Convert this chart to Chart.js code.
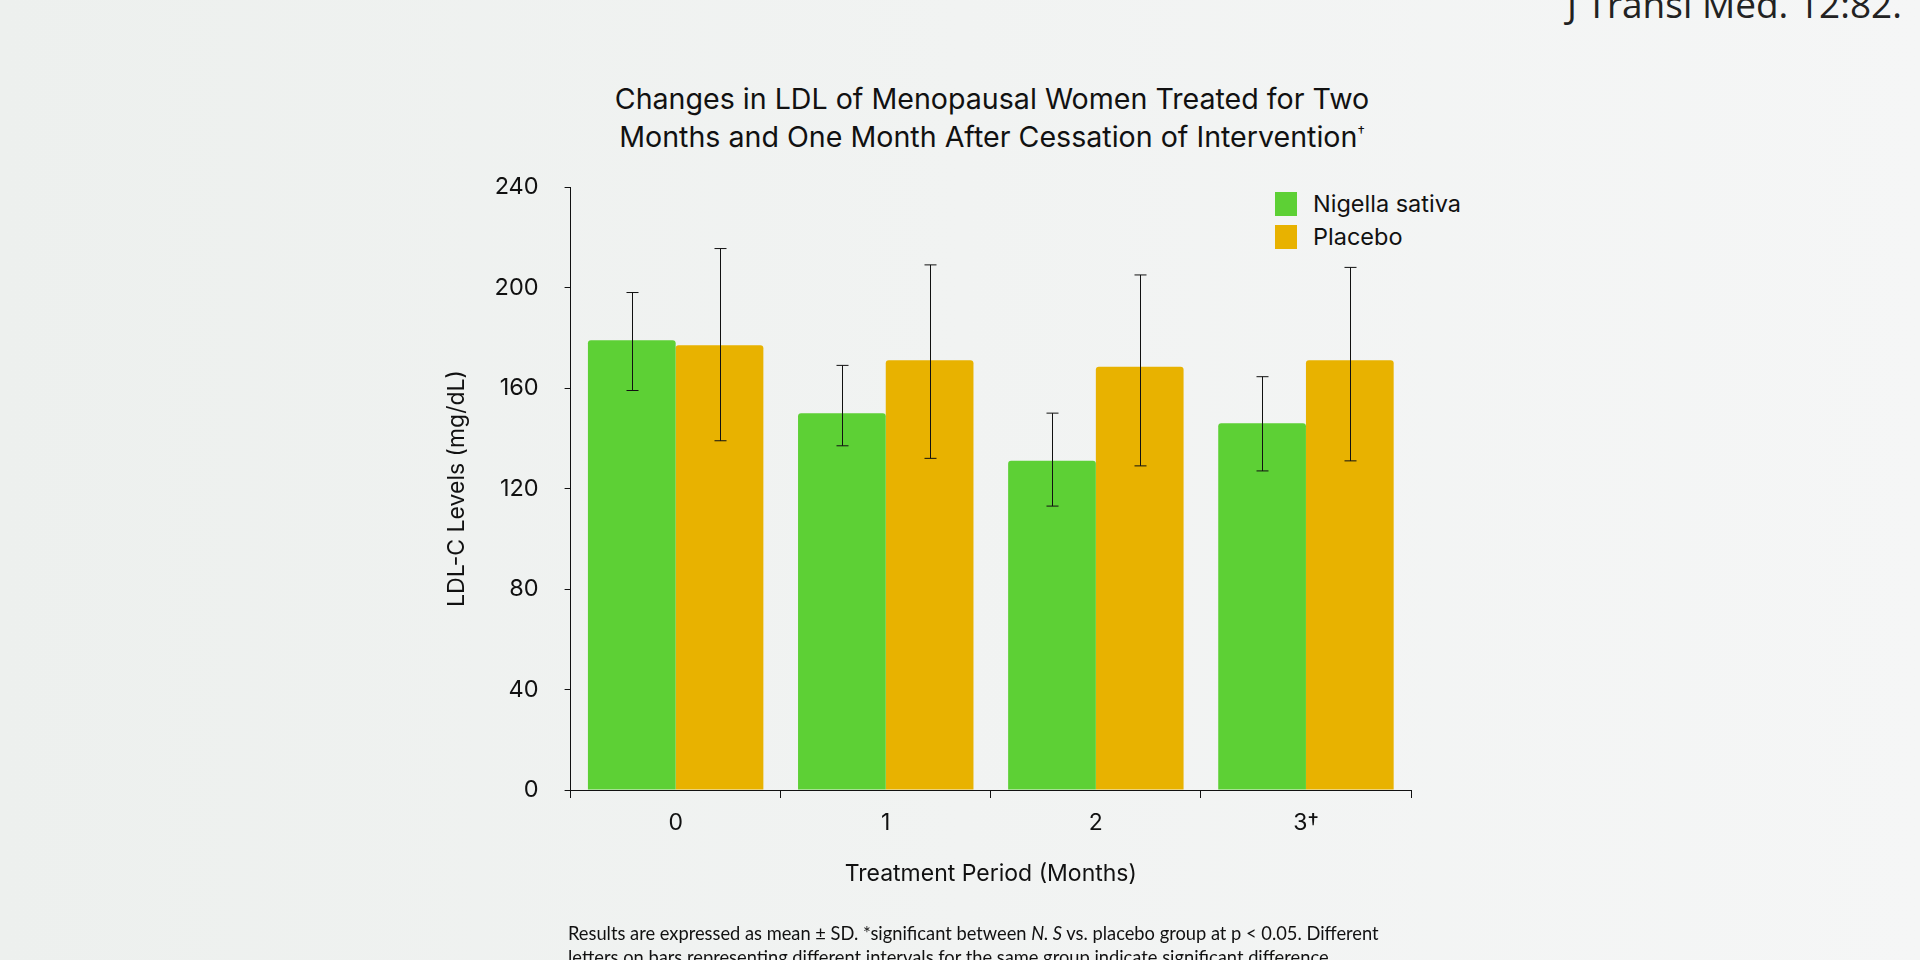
<!DOCTYPE html>
<html>
<head>
<meta charset="utf-8">
<script src="https://cdn.jsdelivr.net/npm/chart.js@4.4.1/dist/chart.umd.min.js"></script>
<style>
  html, body { margin: 0; padding: 0; }
  body {
    width: 1920px; height: 960px; overflow: hidden; position: relative;
    background: linear-gradient(to right, #edf0ee 0%, #f1f3f2 50%, #f5f6f6 100%);
    font-family: Inter, Lato, sans-serif; color: #111;
  }
  #chart { position: absolute; left: 0; top: 0; }
  .cite { position: absolute; left: 1567px; top: -22px; font-family: "Open Sans", sans-serif; font-size: 37px; color: #222; white-space: nowrap; }
  .title { position: absolute; left: 0; width: 1984px; top: 80px; text-align: center; font-size: 28.6px; line-height: 38px; color: #111; }
  .title sup { font-size: 15px; line-height: 0; vertical-align: 0; position: relative; top: -10px; }
  .legend { position: absolute; left: 1275px; top: 187px; font-size: 23.5px; }
  .legend div { height: 33px; display: flex; align-items: center; }
  .legend span.sw { display: inline-block; width: 22px; height: 24px; margin-right: 16px; }
  .note { position: absolute; left: 568px; top: 921px; font-family: Lato, sans-serif; font-size: 18.3px; line-height: 24px; color: #111; white-space: nowrap; }
</style>
</head>
<body>
<div class="cite">J Transl Med. 12:82.</div>
<div class="title">Changes in LDL of Menopausal Women Treated for Two<br>Months and One Month After Cessation of Intervention<sup>†</sup></div>
<div class="legend" id="legend"></div>
<canvas id="chart" width="1920" height="960"></canvas>
<div class="note">Results are expressed as mean ± SD. *significant between <i>N. S</i> vs. placebo group at p &lt; 0.05. Different<br>letters on bars representing different intervals for the same group indicate significant difference</div>
<script>
const categories = ['0', '1', '2', '3†'];
const yTicks = [0, 40, 80, 120, 160, 200, 240];

const nigellaMean = [179, 150, 131, 146];
const nigellaLow = [159, 137, 113, 127];
const nigellaHigh = [198, 169, 150, 164.5];

const placeboMean = [177, 171, 168.5, 171];
const placeboLow = [139, 132, 129, 131];
const placeboHigh = [215.5, 209, 205, 208];

const GREEN = '#5dd035';
const ORANGE = '#e8b200';
const FONT = 'Inter';

// whiskers drawn from the low/high arrays through the y scale
const errorBars = {
    id: 'errorBars',
    afterDatasetsDraw(chart) {
        const { ctx, scales: { y } } = chart;
        ctx.save();
        ctx.strokeStyle = '#111';
        ctx.lineWidth = 1;
        chart.data.datasets.forEach((ds, i) => {
            chart.getDatasetMeta(i).data.forEach((bar, j) => {
                const x = Math.round(bar.x) + 0.5;
                const top = y.getPixelForValue(ds.errHigh[j]);
                const bot = y.getPixelForValue(ds.errLow[j]);
                ctx.beginPath();
                ctx.moveTo(x, top); ctx.lineTo(x, bot);
                ctx.moveTo(x - 6, top); ctx.lineTo(x + 6, top);
                ctx.moveTo(x - 6, bot); ctx.lineTo(x + 6, bot);
                ctx.stroke();
            });
        });
        ctx.restore();
    }
};

const chart = new Chart(document.getElementById('chart'), {
    type: 'bar',
    data: {
        labels: categories,
        datasets: [
            { label: 'Nigella sativa', data: nigellaMean, errLow: nigellaLow, errHigh: nigellaHigh, backgroundColor: GREEN },
            { label: 'Placebo', data: placeboMean, errLow: placeboLow, errHigh: placeboHigh, backgroundColor: ORANGE },
        ]
    },
    options: {
        responsive: false,
        animation: false,
        devicePixelRatio: 1,
        layout: { padding: { left: 420, right: 509, top: 187, bottom: 70 } },
        datasets: { bar: { categoryPercentage: 0.835, barPercentage: 1.0, borderRadius: { topLeft: 3, topRight: 3 }, borderSkipped: 'bottom' } },
        plugins: { legend: { display: false }, tooltip: { enabled: false } },
        scales: {
            x: {
                afterFit: s => { s.height = 100; },
                border: { display: true, color: '#111', width: 1 },
                grid: { display: true, drawOnChartArea: false, drawTicks: true, tickLength: 8, color: '#111', offset: true },
                ticks: { color: '#111', padding: 11, font: { family: FONT, size: 23 } },
                title: { display: true, text: 'Treatment Period (Months)', color: '#111', padding: { top: 0, bottom: 2 }, font: { family: FONT, size: 23 } }
            },
            y: {
                min: 0, max: 240,
                afterFit: s => { s.width = 150.6; },
                afterBuildTicks: s => { s.ticks = yTicks.map(v => ({ value: v })); },
                border: { display: true, color: '#111', width: 1 },
                grid: { display: true, drawOnChartArea: false, drawTicks: true, tickLength: 6, color: '#111' },
                ticks: { color: '#111', padding: 26, font: { family: FONT, size: 23.5 } },
                title: { display: true, text: 'LDL-C Levels (mg/dL)', color: '#111', padding: { top: 23, bottom: 0 }, font: { family: FONT, size: 23 } }
            }
        }
    },
    plugins: [errorBars]
});

document.getElementById('legend').innerHTML = chart.data.datasets.map(ds =>
    `<div><span class="sw" style="background:${ds.backgroundColor}"></span>${ds.label}</div>`
).join('');
</script>
</body>
</html>
